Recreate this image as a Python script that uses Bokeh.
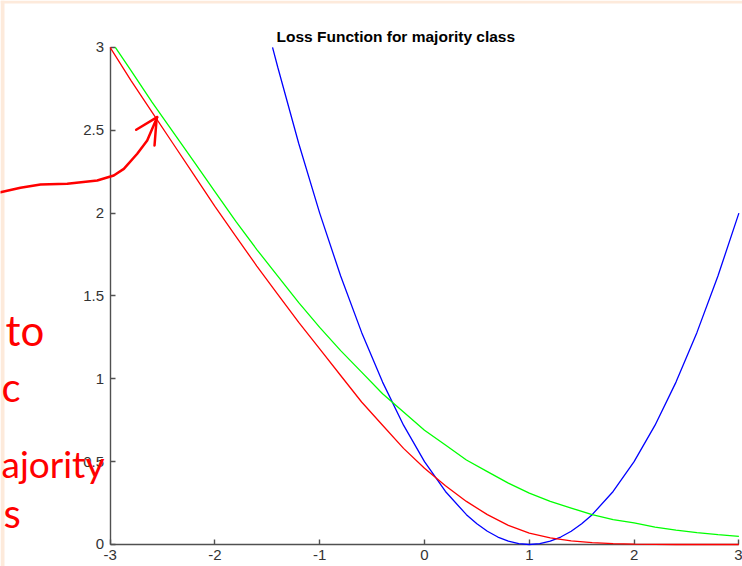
from bokeh.plotting import figure
from bokeh.models import LinearAxis, FixedTicker, Range1d, Label, BoxAnnotation
from bokeh.embed import file_html
from bokeh.resources import INLINE

# ---------------- chart data ----------------
title_text = "Loss Function for majority class"

x_ticks = [-3, -2, -1, 0, 1, 2, 3]
x_tick_labels = ["-3", "-2", "-1", "0", "1", "2", "3"]
y_ticks = [0, 0.5, 1, 1.5, 2, 2.5, 3]
y_tick_labels = ["0", "0.5", "1", "1.5", "2", "2.5", "3"]

blue_x = [-1.45, -1.4, -1.2, -1.0, -0.8, -0.6, -0.4, -0.2, 0.0, 0.2, 0.4, 0.5, 0.6,
          0.7, 0.8, 0.9, 1.0, 1.1, 1.2, 1.3, 1.4, 1.5, 1.6, 1.8, 2.0, 2.2, 2.4, 2.6,
          2.8, 3.0]
blue_y = [3.00, 2.88, 2.42, 2.00, 1.62, 1.28, 0.98, 0.72, 0.50, 0.32, 0.18, 0.125, 0.08,
          0.045, 0.02, 0.005, 0.00, 0.005, 0.02, 0.045, 0.08, 0.125, 0.18, 0.32, 0.50,
          0.72, 0.98, 1.28, 1.62, 2.00]

red_x = [-3.0, -2.8, -2.6, -2.4, -2.2, -2.0, -1.8, -1.6, -1.4, -1.2, -1.0, -0.8,
         -0.6, -0.4, -0.2, 0.0, 0.2, 0.4, 0.6, 0.8, 1.0, 1.2, 1.4, 1.6, 1.8, 2.0,
         2.2, 2.4, 2.6, 2.8, 3.0]
red_y = [3.00, 2.80, 2.61, 2.42, 2.23, 2.04, 1.86, 1.68, 1.51, 1.34, 1.18, 1.02,
         0.86, 0.72, 0.58, 0.46, 0.355, 0.26, 0.18, 0.115, 0.068, 0.04, 0.022, 0.011,
         0.005, 0.002, 0.001, 0.0, 0.0, 0.0, 0.0]

green_x = [-2.95, -2.8, -2.6, -2.4, -2.2, -2.0, -1.8, -1.6, -1.4, -1.2, -1.0, -0.8,
           -0.6, -0.4, -0.2, 0.0, 0.2, 0.4, 0.6, 0.8, 1.0, 1.2, 1.4, 1.6, 1.8, 2.0,
           2.2, 2.4, 2.6, 2.8, 3.0]
green_y = [3.00, 2.86, 2.67, 2.49, 2.31, 2.13, 1.95, 1.78, 1.62, 1.46, 1.31, 1.17,
           1.04, 0.91, 0.80, 0.69, 0.60, 0.51, 0.44, 0.37, 0.31, 0.26, 0.22, 0.18,
           0.15, 0.13, 0.105, 0.087, 0.072, 0.059, 0.049]

# handwritten overlay (in data units)
hand_path_x = [-4.046, -3.855, -3.664, -3.409, -3.123, -2.965, -2.869, -2.741, -2.646, -2.551]
hand_path_y = [2.126, 2.153, 2.173, 2.177, 2.197, 2.227, 2.267, 2.358, 2.438, 2.579]
hand_head_xs = [[-2.751, -2.551], [-2.576, -2.556]]
hand_head_ys = [[2.503, 2.579], [2.408, 2.570]]
hand_words = ["to", "c", "ajority", "s"]
hand_words_x = [-3.998, -4.036, -4.036, -4.017]
hand_words_y = [1.2915, 0.9475, 0.4888, 0.193]
hand_words_size = ["42px", "40px", "37px", "40px"]

# ---------------- figure ----------------
W, H = 742, 566
p = figure(width=W, height=H, output_backend="svg", toolbar_location=None,
           x_axis_type=None, y_axis_type=None,
           x_range=Range1d(-4.0458, 3.0344), y_range=Range1d(-0.1328, 3.2830),
           min_border=0)
p.outline_line_color = None
p.background_fill_color = "white"
p.border_fill_color = "white"

peach = "#fdeadb"
p.add_layout(BoxAnnotation(right=-4.0076, fill_color=peach, fill_alpha=1.0,
                           line_color=None, level="underlay"))
p.add_layout(BoxAnnotation(bottom=3.2649, fill_color=peach, fill_alpha=1.0,
                           line_color=None, level="underlay"))

axis_color = "#505050"
label_color = "#333333"

xa = LinearAxis(fixed_location=0, bounds=(-3, 3), ticker=FixedTicker(ticks=x_ticks),
                major_label_overrides={t: s for t, s in zip(x_ticks, x_tick_labels)})
ya = LinearAxis(fixed_location=-3, bounds=(0, 3), ticker=FixedTicker(ticks=y_ticks),
                major_label_overrides={t: s for t, s in zip(y_ticks, y_tick_labels)})
for ax in (xa, ya):
    ax.level = "underlay"
    ax.axis_line_color = axis_color
    ax.axis_line_width = 1.4
    ax.major_tick_line_color = axis_color
    ax.major_tick_line_width = 1.4
    ax.major_tick_in = 5
    ax.major_tick_out = 0
    ax.minor_tick_line_color = None
    ax.major_label_standoff = 6
    ax.major_label_text_font = "Liberation Sans"
    ax.major_label_text_font_size = "15px"
    ax.major_label_text_color = label_color
p.add_layout(xa, "below")
p.add_layout(ya, "left")

p.line(blue_x, blue_y, line_color="#0000ff", line_width=1.3)
p.line(red_x, red_y, line_color="#ff0000", line_width=1.3)
p.line(green_x, green_y, line_color="#00ff00", line_width=1.3)

p.add_layout(Label(x=-1.412, y=3.066, text=title_text, text_font="Liberation Sans",
                   text_font_style="bold", text_font_size="15.5px", text_color="#000000",
                   text_baseline="alphabetic", text_align="left"))

# handwritten annotations
p.line(hand_path_x, hand_path_y, line_color="#ff0000", line_width=2.5,
       line_cap="round", line_join="round")
p.multi_line(hand_head_xs, hand_head_ys, line_color="#ff0000", line_width=2.5,
             line_cap="round")
for w, wx, wy, ws in zip(hand_words, hand_words_x, hand_words_y, hand_words_size):
    p.add_layout(Label(x=wx, y=wy, text=w, text_font="Lato", text_font_size=ws,
                       text_color="#ff0000", text_baseline="alphabetic", text_align="left"))

open("out.html", "w").write(file_html(p, INLINE))
